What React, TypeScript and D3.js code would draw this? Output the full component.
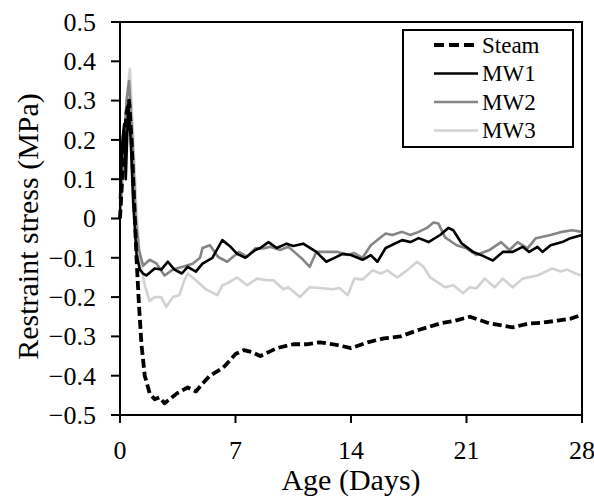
import React from "react";
import * as d3 from "d3";

const steamDays = [0, 0.2, 0.4, 0.55, 0.7, 0.85, 1.0, 1.15, 1.3, 1.5, 1.8, 2.1, 2.4, 2.7, 3.0, 3.45, 4.1, 4.6, 5.0, 5.45, 6.25, 7.0, 7.5, 8.0, 8.5, 9.0, 9.5, 10.5, 11.3, 12.1, 12.9, 13.5, 14, 15, 16, 17, 18, 19.4, 20.3, 21.2, 22.4, 23.8, 24.8, 25.6, 26.5, 27.3, 28];
const steamValues = [0.0, 0.15, 0.27, 0.3, 0.2, 0.05, -0.1, -0.22, -0.32, -0.4, -0.445, -0.46, -0.455, -0.47, -0.46, -0.445, -0.43, -0.44, -0.42, -0.40, -0.38, -0.345, -0.335, -0.34, -0.35, -0.34, -0.33, -0.32, -0.32, -0.315, -0.32, -0.325, -0.33, -0.315, -0.305, -0.30, -0.285, -0.267, -0.26, -0.25, -0.267, -0.277, -0.267, -0.265, -0.26, -0.255, -0.245];

const mw1Days = [0, 0.15, 0.25, 0.35, 0.5, 0.65, 0.8, 1.0, 1.2, 1.4, 1.6, 2.1, 2.5, 2.9, 3.3, 3.75, 4.1, 4.6, 5.0, 5.6, 6.2, 6.7, 7.1, 7.6, 8.2, 8.5, 9.0, 9.5, 10.1, 10.5, 11.1, 11.9, 12.5, 13.0, 13.5, 14.0, 14.7, 15.2, 15.6, 16.1, 17.1, 17.6, 18.1, 18.7, 19.4, 19.9, 20.2, 20.7, 21.4, 22.0, 22.6, 23.2, 23.8, 24.4, 24.8, 25.3, 25.6, 26.1, 26.8, 27.3, 28];
const mw1Values = [0.05, 0.2, 0.24, 0.1, 0.29, 0.2, 0.04, -0.09, -0.13, -0.14, -0.145, -0.127, -0.13, -0.11, -0.13, -0.14, -0.123, -0.135, -0.115, -0.10, -0.055, -0.072, -0.09, -0.10, -0.08, -0.075, -0.06, -0.075, -0.064, -0.07, -0.064, -0.085, -0.11, -0.10, -0.09, -0.093, -0.105, -0.093, -0.11, -0.075, -0.055, -0.06, -0.05, -0.06, -0.042, -0.024, -0.03, -0.063, -0.085, -0.095, -0.107, -0.085, -0.085, -0.072, -0.085, -0.072, -0.085, -0.068, -0.06, -0.05, -0.042];

const mw2Days = [0, 0.2, 0.4, 0.55, 0.75, 0.95, 1.15, 1.4, 1.8, 2.2, 2.7, 3.2, 3.8, 4.4, 4.85, 5.0, 5.45, 5.95, 6.5, 7.2, 7.7, 8.2, 8.7, 9.1, 9.7, 10.2, 10.7, 11.1, 11.5, 11.9, 12.5, 13.2, 13.8, 14.2, 14.7, 15.2, 16.1, 16.5, 17.1, 17.6, 18.1, 18.6, 19.0, 19.3, 19.7, 20.4, 21.0, 21.6, 22.4, 23.1, 23.6, 24.1, 24.7, 25.2, 26.1, 26.8, 27.4, 28];
const mw2Values = [0.0, 0.15, 0.3, 0.35, 0.2, 0.0, -0.08, -0.12, -0.105, -0.114, -0.145, -0.13, -0.123, -0.115, -0.10, -0.075, -0.068, -0.098, -0.11, -0.085, -0.097, -0.076, -0.076, -0.072, -0.08, -0.072, -0.09, -0.105, -0.123, -0.085, -0.085, -0.085, -0.093, -0.088, -0.10, -0.068, -0.038, -0.042, -0.034, -0.042, -0.034, -0.024, -0.01, -0.013, -0.048, -0.068, -0.076, -0.093, -0.08, -0.06, -0.08, -0.06, -0.076, -0.05, -0.042, -0.034, -0.03, -0.034];

const mw3Days = [0, 0.2, 0.4, 0.6, 0.8, 1.0, 1.2, 1.5, 1.8, 2.1, 2.5, 2.8, 3.2, 3.6, 3.9, 4.1, 4.6, 5.2, 5.9, 6.2, 6.5, 7.1, 7.7, 8.3, 8.9, 9.3, 9.9, 10.2, 10.9, 11.5, 12.1, 12.9, 13.3, 13.8, 14.2, 14.7, 15.3, 15.8, 16.2, 16.8, 17.4, 18.0, 18.4, 18.8, 19.7, 20.2, 20.8, 21.2, 21.6, 22.1, 22.7, 23.2, 23.8, 24.4, 25.3, 26.2, 26.7, 27.1, 27.6, 28];
const mw3Values = [0.0, 0.15, 0.3, 0.38, 0.2, 0.02, -0.1, -0.17, -0.21, -0.2, -0.2, -0.225, -0.2, -0.195, -0.157, -0.14, -0.157, -0.18, -0.195, -0.17, -0.165, -0.15, -0.17, -0.153, -0.157, -0.157, -0.18, -0.175, -0.2, -0.175, -0.177, -0.18, -0.177, -0.195, -0.153, -0.155, -0.132, -0.14, -0.132, -0.15, -0.132, -0.11, -0.123, -0.15, -0.175, -0.17, -0.19, -0.175, -0.178, -0.153, -0.175, -0.153, -0.175, -0.153, -0.145, -0.127, -0.135, -0.13, -0.14, -0.145];

const xTicks = [0, 7, 14, 21, 28];
const yTicks = [0.5, 0.4, 0.3, 0.2, 0.1, 0, -0.1, -0.2, -0.3, -0.4, -0.5];
const seriesNames = ["Steam", "MW1", "MW2", "MW3"];

const FONT = "'Liberation Serif', 'Times New Roman', serif";

export default function App() {
  const left = 120, right = 582, top = 22, bottom = 415;
  const x = d3.scaleLinear().domain([0, 28]).range([left, right]);
  const y = d3.scaleLinear().domain([-0.5, 0.5]).range([bottom, top]);

  const mk = (days: number[], vals: number[]) =>
    d3.line<number>().x((_, i) => x(days[i])).y((v) => y(v))(vals) || "";

  const series = [
    { name: "MW3", d: mk(mw3Days, mw3Values), color: "#d2d2d2", w: 2.6, dash: undefined },
    { name: "MW2", d: mk(mw2Days, mw2Values), color: "#858585", w: 2.6, dash: undefined },
    { name: "MW1", d: mk(mw1Days, mw1Values), color: "#000000", w: 2.6, dash: undefined },
    { name: "Steam", d: mk(steamDays, steamValues), color: "#000000", w: 3.8, dash: "9,4" },
  ];
  const styleOf: Record<string, { color: string; w: number; dash?: string }> = {};
  series.forEach((s) => (styleOf[s.name] = s));

  const fmt = (v: number) => (v === 0 ? "0" : d3.format(".1f")(v));

  return (
    <svg width={594} height={497} style={{ position: "absolute", left: 0, top: 0, background: "#fff" }} fontFamily={FONT}>
      <rect x={0} y={0} width={594} height={497} fill="#fff" />
      {series.map((s) => (
        <path key={s.name} d={s.d} fill="none" stroke={s.color} strokeWidth={s.w}
          strokeDasharray={s.dash} strokeLinejoin="round" />
      ))}
      <rect x={left} y={top} width={right - left} height={bottom - top} fill="none" stroke="#000" strokeWidth={2} />
      {yTicks.map((t) => (
        <g key={t}>
          <line x1={left - 9} x2={left} y1={y(t)} y2={y(t)} stroke="#000" strokeWidth={2} />
          <text x={96} y={y(t)} dy="0.34em" textAnchor="end" fontSize={26}>{fmt(t)}</text>
        </g>
      ))}
      {xTicks.map((t) => (
        <g key={t}>
          <line x1={x(t)} x2={x(t)} y1={bottom} y2={bottom + 8} stroke="#000" strokeWidth={2} />
          <text x={x(t)} y={459} textAnchor="middle" fontSize={26}>{t}</text>
        </g>
      ))}
      <text x={(left + right) / 2} y={490} textAnchor="middle" fontSize={30}>Age (Days)</text>
      <text transform={`translate(38,${(top + bottom) / 2 + 8}) rotate(-90)`} textAnchor="middle" fontSize={30}>Restraint stress (MPa)</text>
      <rect x={403} y={30} width={170} height={117} fill="#fff" stroke="#000" strokeWidth={2} />
      {seriesNames.map((n, i) => {
        const s = styleOf[n];
        const ly = 45 + i * 28.5;
        return (
          <g key={n}>
            <line x1={434} x2={478} y1={ly} y2={ly} stroke={s.color} strokeWidth={s.w}
              strokeDasharray={s.dash ? "10,5" : undefined} />
            <text x={482} y={ly} dy="0.34em" fontSize={23}>{n}</text>
          </g>
        );
      })}
    </svg>
  );
}
